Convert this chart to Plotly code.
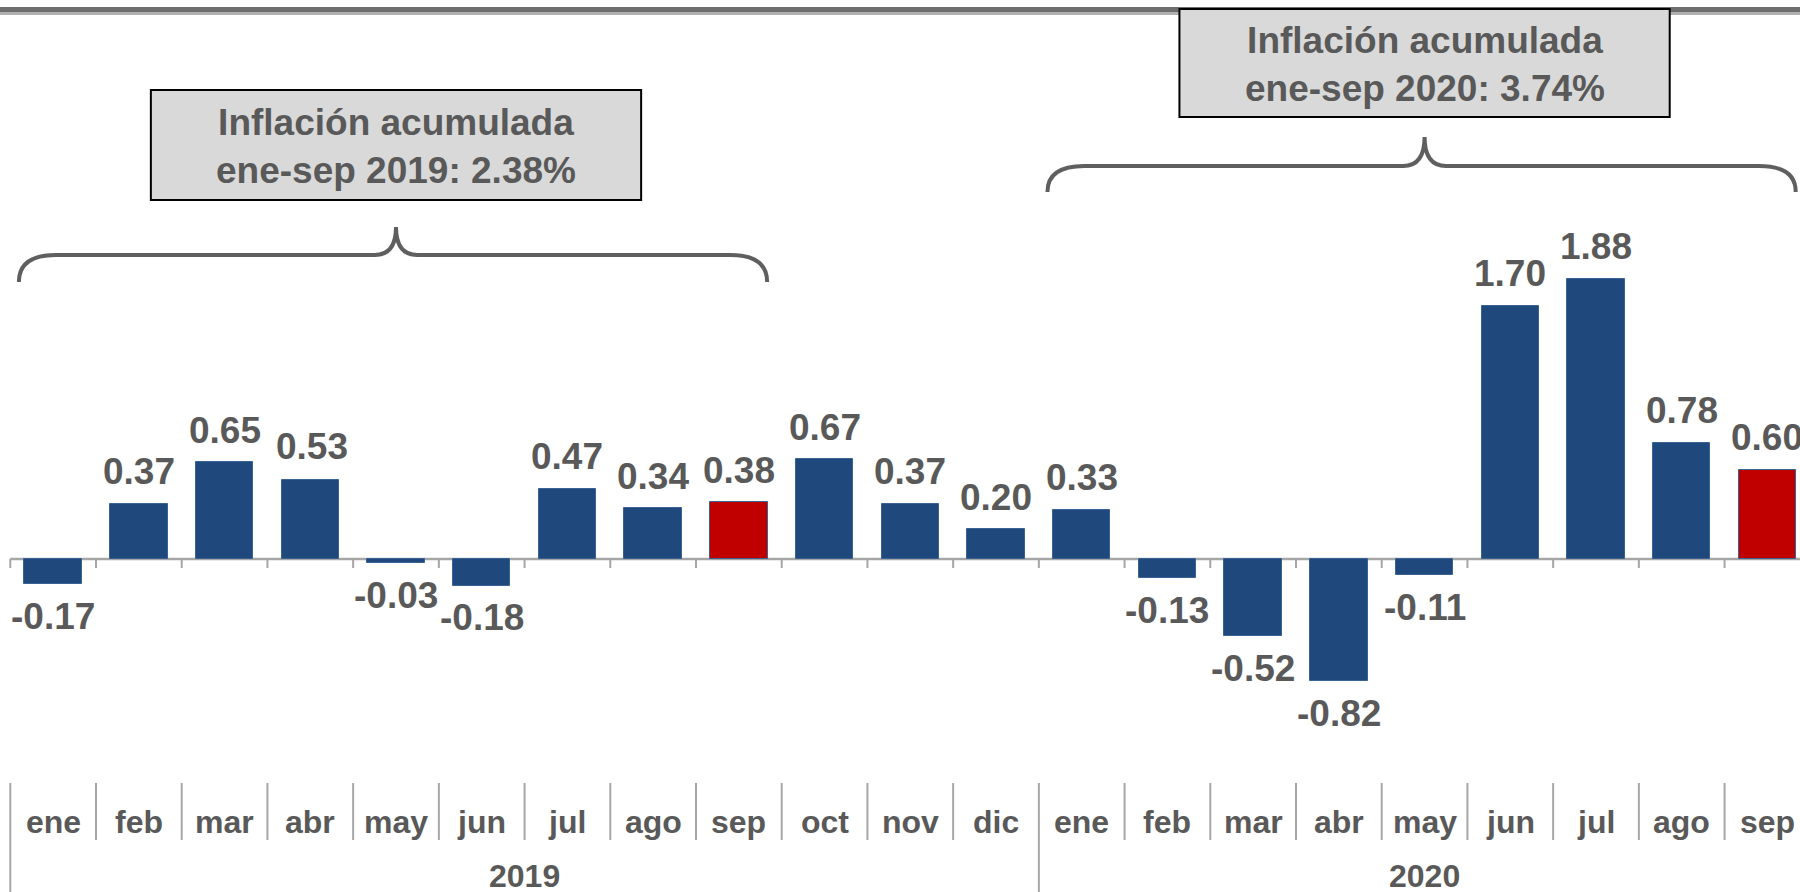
import plotly.graph_objects as go

# ---------------- data ----------------
months = ["ene", "feb", "mar", "abr", "may", "jun", "jul", "ago", "sep", "oct", "nov", "dic",
          "ene", "feb", "mar", "abr", "may", "jun", "jul", "ago", "sep"]
years = ["2019", "2020"]
year_counts = [12, 9]
values = [-0.17, 0.37, 0.65, 0.53, -0.03, -0.18, 0.47, 0.34, 0.38, 0.67, 0.37, 0.20,
          0.33, -0.13, -0.52, -0.82, -0.11, 1.70, 1.88, 0.78, 0.60]
highlight_idx = [8, 20]          # septiembre de cada año
box_texts = ["Inflación acumulada<br>ene-sep 2019: 2.38%",
             "Inflación acumulada<br>ene-sep 2020: 3.74%"]
bracket_ranges = [(0, 8), (12, 20)]   # ene-sep 2019, ene-sep 2020

# ---------------- style ----------------
W, H = 1800, 892
BLUE = "#1F497D"
RED = "#C00000"
TXT = "#595959"
GRID = "#A6A6A6"
FONT = "Liberation Sans, Arial, sans-serif"
XR = [-0.62, 20.38]
YR = [-2.235, 3.752]
PPU = H / (YR[1] - YR[0])   # pixels per y unit


def py2y(p):
    """pixel row -> y data value"""
    return YR[1] - p / PPU


def py2paper(p):
    return 1 - p / H


colors = [RED if i in highlight_idx else BLUE for i in range(len(values))]
x = list(range(len(values)))

fig = go.Figure()
fig.add_trace(go.Bar(
    x=x, y=values, width=0.67,
    marker=dict(color=colors, line=dict(color="#3A6394", width=1)),
    hoverinfo="skip", showlegend=False,
))

shapes = []
annotations = []

# top double-tone rule
shapes.append(dict(type="rect", xref="paper", yref="paper", x0=0, x1=1,
                   y0=py2paper(12), y1=py2paper(7), fillcolor="#6E6E6E", line=dict(width=0), layer="above"))
shapes.append(dict(type="rect", xref="paper", yref="paper", x0=0, x1=1,
                   y0=py2paper(15), y1=py2paper(12), fillcolor="#B0B0B0", line=dict(width=0), layer="above"))

# zero axis line with ticks at category boundaries
shapes.append(dict(type="line", xref="x", yref="y", x0=-0.5, x1=XR[1], y0=0, y1=0,
                   line=dict(color=GRID, width=2.5), layer="below"))
for i in range(len(values) + 1):
    b = i - 0.5
    shapes.append(dict(type="line", xref="x", yref="y", x0=b, x1=b, y0=0, y1=-9 / PPU,
                       line=dict(color=GRID, width=2), layer="below"))

# bottom category dividers
year_bounds = [-0.5]
acc = -0.5
for c in year_counts:
    acc += c
    year_bounds.append(acc)
for i in range(len(values) + 1):
    b = i - 0.5
    bottom = 0 if b in year_bounds else py2paper(840)
    shapes.append(dict(type="line", xref="x", yref="paper", x0=b, x1=b,
                       y0=py2paper(783), y1=bottom,
                       line=dict(color=GRID, width=2)))

# month labels
for i, m in enumerate(months):
    annotations.append(dict(x=i, y=py2paper(822), xref="x", yref="paper", text=m,
                            showarrow=False, yanchor="middle",
                            font=dict(family=FONT, size=32, color=TXT, weight="bold")))
# year labels
for k, yr in enumerate(years):
    xc = (year_bounds[k] + year_bounds[k + 1]) / 2
    annotations.append(dict(x=xc, y=py2paper(876), xref="x", yref="paper", text=yr,
                            showarrow=False, yanchor="middle",
                            font=dict(family=FONT, size=32, color=TXT, weight="bold")))

# data labels
label_dx = {3: 2}
label_dy = {3: 2}
for i, v in enumerate(values):
    sgn = 1 if v >= 0 else -1
    annotations.append(dict(x=i, y=v, xref="x", yref="y", text=f"{v:.2f}",
                            showarrow=False, yanchor="middle",
                            xshift=label_dx.get(i, 0),
                            yshift=sgn * 32 + label_dy.get(i, 0),
                            font=dict(family=FONT, size=37, color=TXT, weight="bold")))

# braces + boxes
brace_geom = [
    # (y_h px, y_end px, y_peak px, box top px, box bottom px)
    (255, 282, 227, 90, 200),
    (166, 192, 137, 9, 117),
]
for (a, b), (yh_p, ye_p, yp_p, bt_p, bb_p), txt in zip(bracket_ranges, brace_geom, box_texts):
    x0 = a - 0.40
    x1 = b + 0.33
    xm = (a + b) / 2
    yh, ye, yp = py2y(yh_p), py2y(ye_p), py2y(yp_p)
    rx = 0.43
    mx = 0.25
    path = (f"M {x0},{ye} Q {x0},{yh} {x0 + rx},{yh} "
            f"L {xm - mx},{yh} Q {xm},{yh} {xm},{yp} "
            f"Q {xm},{yh} {xm + mx},{yh} "
            f"L {x1 - rx},{yh} Q {x1},{yh} {x1},{ye}")
    shapes.append(dict(type="path", xref="x", yref="y", path=path,
                       line=dict(color="#5F5F5F", width=4)))
    half = 2.86
    shapes.append(dict(type="rect", xref="x", yref="y", x0=xm - half, x1=xm + half,
                       y0=py2y(bb_p), y1=py2y(bt_p), fillcolor="#D9D9D9",
                       line=dict(color="#000000", width=2), layer="above"))
    annotations.append(dict(x=xm, y=py2y((bt_p + bb_p) / 2 + 1.5), xref="x", yref="y",
                            text=txt, showarrow=False, yanchor="middle", align="center",
                            font=dict(family=FONT, size=37, color=TXT, weight="bold")))

fig.update_layout(
    width=W, height=H,
    margin=dict(l=0, r=0, t=0, b=0),
    paper_bgcolor="white", plot_bgcolor="white",
    xaxis=dict(range=XR, visible=False, fixedrange=True),
    yaxis=dict(range=YR, visible=False, fixedrange=True),
    shapes=shapes, annotations=annotations,
    bargap=0, showlegend=False,
)

fig.write_html("out.html", config={"displayModeBar": False},
               post_script="document.body.style.margin='0px';document.body.style.overflow='hidden';")
